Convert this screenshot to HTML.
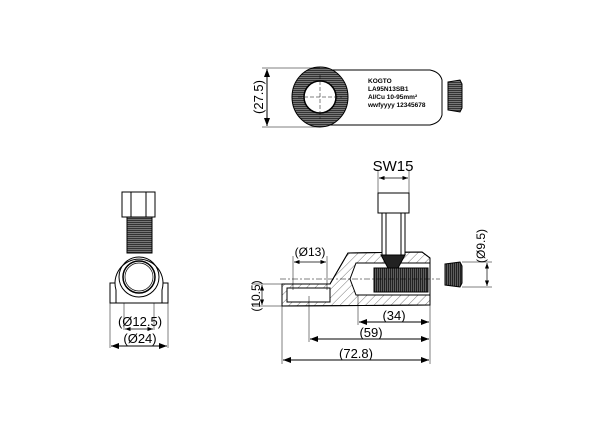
<!DOCTYPE html>
<html><head><style>body{margin:0;background:#fff}svg{display:block}text{font-family:"Liberation Sans",sans-serif;fill:#000}</style></head>
<body>
<svg width="600" height="425" viewBox="0 0 600 425" xmlns="http://www.w3.org/2000/svg">
<defs>
<marker id="a" markerWidth="8" markerHeight="6" refX="8" refY="3" orient="auto-start-reverse"><path d="M0,0L8,3L0,6z" fill="#000"/></marker>
<pattern id="h" width="6" height="6" patternUnits="userSpaceOnUse" patternTransform="rotate(45)"><line x1="0" y1="0" x2="0" y2="6" stroke="#555" stroke-width="0.8"/></pattern>
<pattern id="t" width="2" height="4" patternUnits="userSpaceOnUse"><rect width="2" height="4" fill="#777"/><rect width="1.3" height="4" fill="#222"/></pattern>
<pattern id="r" width="4" height="2" patternUnits="userSpaceOnUse"><rect width="4" height="2" fill="#888"/><rect width="4" height="1.2" fill="#333"/></pattern>
</defs>
<g stroke="#000" stroke-width="1" fill="none">
<!-- TOP VIEW -->
<path d="M330,70 L430,70 Q440,72 442,80 L442,115 Q440,123 430,125 L330,125 Z" fill="#fff"/>
<ellipse cx="320" cy="97" rx="28" ry="30" fill="url(#r)"/>
<circle cx="320" cy="97" r="16" fill="#fff" stroke-width="1.5"/>
<line x1="320" y1="75" x2="320" y2="119" stroke-width="0.5" stroke-dasharray="4,2"/>
<line x1="298" y1="97" x2="342" y2="97" stroke-width="0.5" stroke-dasharray="4,2"/>
<path d="M448,82 L460,80 L462,84 L462,108 L460,112 L448,110 Z" fill="url(#r)"/>
<line x1="262" y1="68" x2="320" y2="68" stroke-width="0.5"/>
<line x1="262" y1="127" x2="320" y2="127" stroke-width="0.5"/>
<line x1="267" y1="69" x2="267" y2="126" marker-start="url(#a)" marker-end="url(#a)"/>
<!-- FRONT VIEW -->
<rect x="122" y="192" width="33" height="25" fill="#fff"/>
<line x1="131" y1="192" x2="131" y2="217"/><line x1="146" y1="192" x2="146" y2="217"/>
<rect x="127" y="217" width="25" height="36" fill="url(#r)"/>
<path d="M110,283 L116,283 L116,303 L110,303 Z M162,283 L168,283 L168,303 L162,303 Z" fill="#fff"/>
<path d="M116,290 A24,24 0 1 1 162,290 L162,303 L116,303 Z" fill="#fff"/>
<circle cx="139" cy="277" r="20"/>
<circle cx="139" cy="277" r="16" stroke-width="1.5"/>
<circle cx="139" cy="277" r="14" stroke-width="0.7"/>
<line x1="124" y1="303" x2="124" y2="330" stroke-width="0.5"/><line x1="154" y1="303" x2="154" y2="330" stroke-width="0.5"/>
<line x1="110" y1="303" x2="110" y2="348" stroke-width="0.5"/><line x1="168" y1="303" x2="168" y2="348" stroke-width="0.5"/>
<line x1="125" y1="329" x2="153" y2="329" marker-start="url(#a)" marker-end="url(#a)" stroke-width="0.7"/>
<line x1="111" y1="346" x2="167" y2="346" marker-start="url(#a)" marker-end="url(#a)"/>
<!-- SIDE VIEW -->
<path d="M282,284 L330,284 L348,253 L422,252 L430,258 L430,305 L282,306 Z" fill="url(#h)"/>
<path d="M282,284 L330,284 L348,253 L422,252 L430,258 L430,305 L282,306 Z"/>
<rect x="287" y="288" width="43" height="14" fill="#fff"/>
<path d="M356,263 L430,263 L430,295 L356,295 L350,279 Z" fill="#fff"/>
<rect x="374" y="268" width="54" height="24" fill="url(#t)"/>
<rect x="378" y="193" width="31" height="20" fill="#fff"/>
<rect x="382" y="213" width="23" height="42" fill="#fff"/>
<line x1="386" y1="213" x2="386" y2="255"/><line x1="401" y1="213" x2="401" y2="255"/>
<path d="M381,255 L405,255 L398,268 L388,268 Z" fill="#222"/>
<line x1="280" y1="279" x2="440" y2="279" stroke-width="0.5" stroke-dasharray="6,2,2,2"/>
<line x1="378" y1="170" x2="378" y2="193" stroke-width="0.5"/><line x1="409" y1="170" x2="409" y2="193" stroke-width="0.5"/>
<line x1="379" y1="178" x2="408" y2="178" marker-start="url(#a)" marker-end="url(#a)" stroke-width="0.7"/>
<line x1="293" y1="256" x2="293" y2="290" stroke-width="0.5"/><line x1="327" y1="256" x2="327" y2="290" stroke-width="0.5"/>
<line x1="294" y1="262" x2="326" y2="262" marker-start="url(#a)" marker-end="url(#a)" stroke-width="0.7"/>
<path d="M445,264 L460,262 L462,266 L462,283 L460,287 L445,285 Z" fill="url(#t)"/>
<line x1="462" y1="262" x2="492" y2="262" stroke-width="0.5"/><line x1="462" y1="287" x2="492" y2="287" stroke-width="0.5"/>
<line x1="487" y1="263" x2="487" y2="286" marker-start="url(#a)" marker-end="url(#a)" stroke-width="0.7"/>
<line x1="252" y1="284" x2="282" y2="284" stroke-width="0.5"/><line x1="252" y1="306" x2="282" y2="306" stroke-width="0.5"/>
<line x1="262" y1="285" x2="262" y2="305" marker-start="url(#a)" marker-end="url(#a)" stroke-width="0.7"/>
<line x1="430" y1="305" x2="430" y2="364" stroke-width="0.5"/>
<line x1="358" y1="295" x2="358" y2="325" stroke-width="0.5"/>
<line x1="309" y1="296" x2="309" y2="342" stroke-width="0.5"/>
<line x1="282" y1="306" x2="282" y2="364" stroke-width="0.5"/>
<line x1="359" y1="322" x2="429" y2="322" marker-start="url(#a)" marker-end="url(#a)"/>
<line x1="310" y1="339" x2="429" y2="339" marker-start="url(#a)" marker-end="url(#a)"/>
<line x1="283" y1="360" x2="429" y2="360" marker-start="url(#a)" marker-end="url(#a)"/>
</g>
<g font-size="6.5" font-weight="bold">
<text x="368" y="83">KOGTO</text>
<text x="368" y="91">LA95N13SB1</text>
<text x="368" y="99">Al/Cu 10-95mm²</text>
<text x="368" y="107">wwfyyyy 12345678</text>
</g>
<g font-size="13">
<text x="0" y="0" transform="translate(263,97) rotate(-90)" text-anchor="middle">(27.5)</text>
<text x="393" y="171" text-anchor="middle" font-size="15">SW15</text>
<text x="310" y="256" text-anchor="middle" font-size="12">(Ø13)</text>
<text x="0" y="0" transform="translate(485,246) rotate(-90)" text-anchor="middle" font-size="12">(Ø9.5)</text>
<text x="0" y="0" transform="translate(260,296) rotate(-90)" text-anchor="middle" font-size="12">(10.5)</text>
<text x="394" y="320" text-anchor="middle">(34)</text>
<text x="371" y="337" text-anchor="middle">(59)</text>
<text x="356" y="358" text-anchor="middle">(72.8)</text>
<text x="140" y="326" text-anchor="middle">(Ø12.5)</text>
<text x="140" y="343" text-anchor="middle">(Ø24)</text>
</g>
</svg>
</body></html>
